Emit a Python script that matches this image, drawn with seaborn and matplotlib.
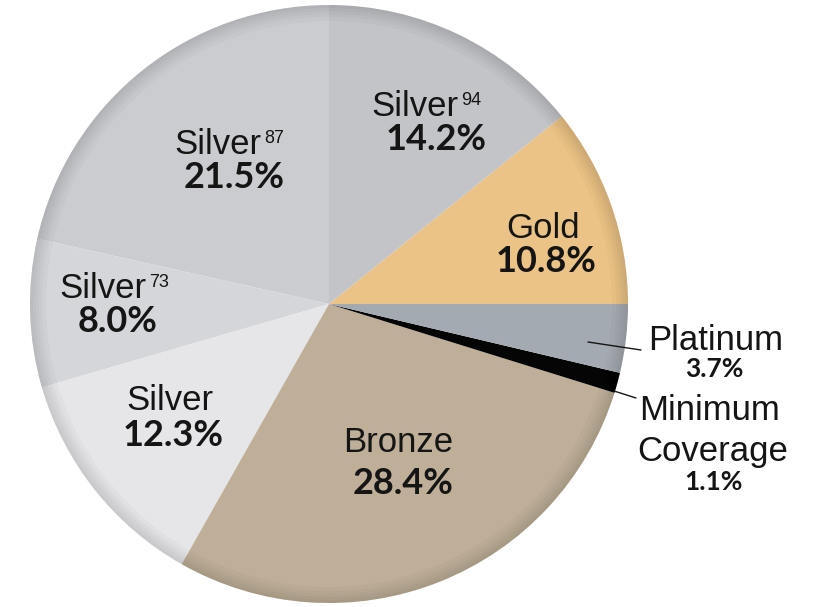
import matplotlib.pyplot as plt
import seaborn as sns

sns.set_theme(style="white")
plt.rcParams['font.family'] = ['Liberation Sans', 'DejaVu Sans']

# Data (counterclockwise from 3 o'clock)
tiers = ['Gold', 'Silver94', 'Silver87', 'Silver73', 'Silver', 'Bronze', 'Minimum Coverage', 'Platinum']
shares = [10.8, 14.2, 21.5, 8.0, 12.3, 28.4, 1.1, 3.7]
colors = ['#EBC386', '#C3C4C8', '#CBCCCF', '#D5D6D9', '#E6E6E9', '#BFAF99', '#050505', '#A4AAB1']

fig = plt.figure(figsize=(8.18, 6.07), dpi=100)
ax = fig.add_axes([0, 0, 1, 1])

cx, cy, r = 329, 303, 299

ax.pie(shares, colors=colors, startangle=0, counterclock=True,
       center=(cx, cy), radius=r, frame=True,
       wedgeprops=dict(linewidth=0))
# soft darker rim for the slight 3D look
for w in [16, 12, 9, 6, 3]:
    ax.pie(shares, colors=['black'] * len(shares), startangle=0, counterclock=True,
           center=(cx, cy), radius=r, frame=True,
           wedgeprops=dict(linewidth=0, width=w, alpha=0.022))
ax.set_xlim(0, 818)
ax.set_ylim(0, 607)
ax.axis('off')

H = 607
name_fs = 25
pct_fs = 26
ink = '#151515'

# in-slice labels: (name, superscript, pct, x_name, x_pct, y_name, y_pct)
inside = [
    ('Silver', '94', '14.2%', 415, 436, 106, 140),
    ('Gold', '', '10.8%', 543, 546, 228, 261),
    ('Silver', '87', '21.5%', 218, 234, 144, 177),
    ('Silver', '73', '8.0%', 103, 118, 288, 321),
    ('Silver', '', '12.3%', 170, 173, 400, 436),
    ('Bronze', '', '28.4%', 398, 403, 443, 483),
]
for name, sup, pct, xn, xp, yn, yp in inside:
    t = ax.text(xn, H - yn, name, ha='center', va='center', fontsize=name_fs, color=ink)
    if sup:
        ax.annotate(sup, xy=(1.0, 0.93), xycoords=t, xytext=(2, 0),
                    textcoords='offset points', ha='left', va='top',
                    fontsize=13, color=ink)
    ax.text(xp, H - yp, pct, ha='center', va='center', fontsize=pct_fs,
            fontweight='bold', family='Lato', color=ink)

# outside labels with leader lines
ax.text(716, H - 340, 'Platinum', ha='center', va='center', fontsize=name_fs, color=ink)
ax.text(714, H - 369, '3.7%', ha='center', va='center', fontsize=19,
        fontweight='bold', family='Lato', color=ink)
ax.plot([588, 641], [H - 342, H - 350], color=ink, lw=1)

ax.text(710, H - 411, 'Minimum', ha='center', va='center', fontsize=name_fs, color=ink)
ax.text(713, H - 451, 'Coverage', ha='center', va='center', fontsize=name_fs, color=ink)
ax.text(713, H - 482, '1.1%', ha='center', va='center', fontsize=19,
        fontweight='bold', family='Lato', color=ink)
ax.plot([614, 636], [H - 391, H - 398], color=ink, lw=1)

fig.savefig('out.png', dpi=100)
